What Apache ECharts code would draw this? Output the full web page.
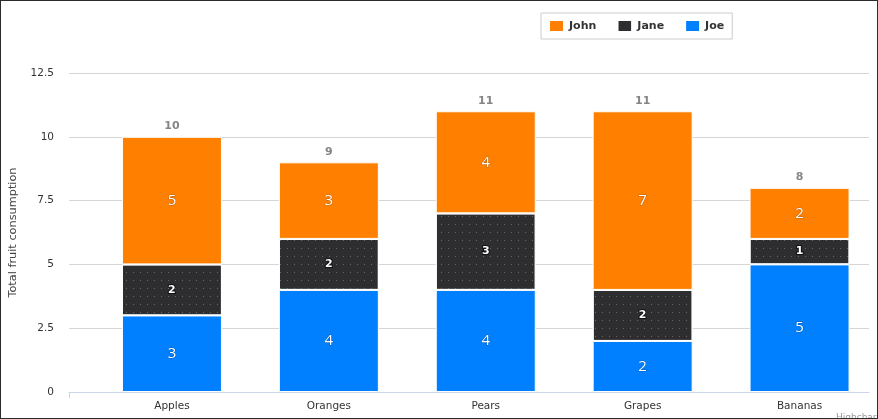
<!DOCTYPE html>
<html>
<head>
<meta charset="utf-8">
<script src="https://cdn.jsdelivr.net/npm/echarts@6/dist/echarts.min.js"></script>
<style>
    html, body { margin: 0; padding: 0; background: #fff; }
    #wrap { position: relative; width: 878px; height: 419px; }
    #chart { width: 878px; height: 419px; }
    #frame {
        position: absolute; left: 0; top: 0; width: 878px; height: 419px;
        box-sizing: border-box; border: 1px solid #2b2b2b; pointer-events: none;
    }
</style>
</head>
<body>
<div id="wrap">
    <div id="chart"></div>
    <div id="frame"></div>
</div>
<script>
// data
const fruits = ['Apples', 'Oranges', 'Pears', 'Grapes', 'Bananas'];
const john = [5, 3, 4, 7, 2];
const jane = [2, 2, 3, 2, 1];
const joe = [3, 4, 4, 2, 5];
const yTicks = [0, 2.5, 5, 7.5, 10, 12.5];

const totals = fruits.map((f, i) => john[i] + jane[i] + joe[i]);

const font = 'DejaVu Sans, sans-serif';

var chart = echarts.init(document.getElementById('chart'));

let bigLabel = {
    show: true,
    position: 'inside',
    fontFamily: 'Open Sans, sans-serif',
    fontSize: 15,
    color: '#fff',
    textBorderColor: 'rgba(0,0,0,0.25)',
    textBorderWidth: 1
};

let option = {
    animation: false,
    legend: {
        data: [
            {name: 'John'},
            {name: 'Jane', itemStyle: {decal: {symbol: 'rect', color: 'rgba(0,0,0,0)'}}},
            {name: 'Joe'}
        ],
        left: 541,
        top: 13,
        padding: [6, 8, 6, 7],
        borderColor: '#cccccc',
        borderWidth: 1,
        itemWidth: 15,
        itemHeight: 12,
        itemGap: 20,
        icon: 'rect',
        textStyle: {
            fontFamily: font,
            fontWeight: 'bold',
            fontSize: 11,
            color: '#333'
        }
    },
    grid: [
        {left: 67, right: 9, top: 73, bottom: 27},
        {left: 93.5, width: 785, top: 73, bottom: 27}
    ],
    xAxis: [
        {
            gridIndex: 0,
            type: 'value',
            min: 0,
            max: 1,
            axisLine: {show: true, lineStyle: {color: '#ccd6eb'}},
            axisTick: {show: true, length: 6, customValues: [0], lineStyle: {color: '#ccd6eb'}},
            axisLabel: {show: false},
            splitLine: {show: false}
        },
        {
            gridIndex: 1,
            type: 'category',
            data: fruits,
            axisLine: {show: false},
            axisTick: {show: false},
            axisLabel: {
                margin: 9,
                fontFamily: font,
                fontSize: 10.5,
                color: '#333'
            }
        }
    ],
    yAxis: [
        {
            gridIndex: 0,
            type: 'value',
            min: yTicks[0],
            max: yTicks[yTicks.length - 1],
            interval: 2.5,
            name: 'Total fruit consumption',
            nameLocation: 'middle',
            nameGap: 50,
            nameTextStyle: {fontFamily: font, fontSize: 11.3, color: '#444'},
            axisLine: {show: false},
            axisTick: {show: false},
            axisLabel: {margin: 15, fontFamily: font, fontSize: 10.5, color: '#333'},
            splitLine: {lineStyle: {color: '#d6d6d6'}}
        },
        {
            gridIndex: 1,
            type: 'value',
            min: yTicks[0],
            max: yTicks[yTicks.length - 1],
            show: false
        }
    ],
    series: [
        {
            name: 'Joe',
            type: 'bar',
            stack: 'fruit',
            xAxisIndex: 1,
            yAxisIndex: 1,
            barWidth: 100,
            data: joe,
            itemStyle: {color: '#0080ff', borderColor: '#fff', borderWidth: 1},
            label: bigLabel
        },
        {
            name: 'Jane',
            type: 'bar',
            stack: 'fruit',
            xAxisIndex: 1,
            yAxisIndex: 1,
            barWidth: 100,
            data: jane,
            itemStyle: {
                color: '#2e2e31',
                borderColor: '#fff',
                borderWidth: 1,
                decal: {
                    symbol: 'rect',
                    symbolSize: 1,
                    color: 'rgba(170,170,170,0.45)',
                    dashArrayX: [1, 5.5],
                    dashArrayY: [1, 6.5],
                    rotation: 0
                }
            },
            label: {
                show: true,
                position: 'inside',
                fontFamily: font,
                fontWeight: 'bold',
                fontSize: 11,
                color: '#fff',
                textBorderColor: '#111',
                textBorderWidth: 2
            }
        },
        {
            name: 'John',
            type: 'bar',
            stack: 'fruit',
            xAxisIndex: 1,
            yAxisIndex: 1,
            barWidth: 100,
            data: john,
            itemStyle: {color: '#ff8000', borderColor: '#fff', borderWidth: 1},
            label: bigLabel
        },
        {
            name: 'Total',
            type: 'scatter',
            xAxisIndex: 1,
            yAxisIndex: 1,
            symbolSize: 0,
            data: totals,
            silent: true,
            label: {
                show: true,
                position: 'top',
                distance: 5,
                fontFamily: font,
                fontWeight: 'bold',
                fontSize: 11,
                color: '#666'
            }
        }
    ],
    graphic: [
        {
            type: 'text',
            left: 836,
            top: 413,
            style: {text: 'Highcharts.com', fontFamily: font, fontSize: 9, fill: '#999'}
        }
    ]
};

chart.setOption(option);
</script>
</body>
</html>
